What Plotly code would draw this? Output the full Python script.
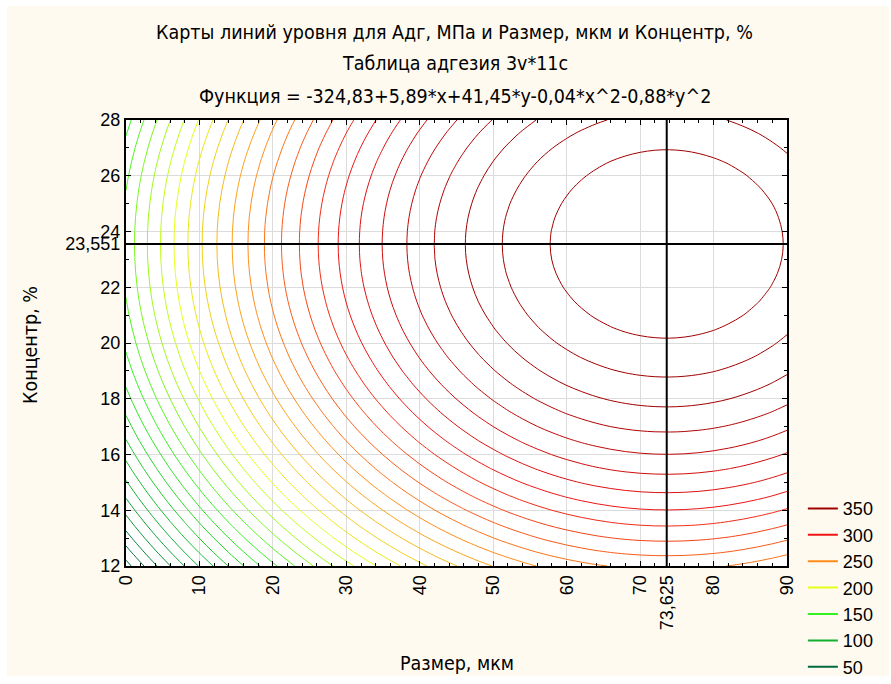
import numpy as np
import plotly.graph_objects as go

# Fitted surface: Adh = c0 + c1*x + c2*y + c3*x^2 + c4*y^2
coef = [-324.83, 5.89, 41.45, -0.04, -0.88]

# Optimum (crosshair) position
x_opt = 73.625
y_opt = 23.551

# Axis ranges and ticks
x_range = [0, 90]
y_range = [12, 28]
x_ticks = [0, 10, 20, 30, 40, 50, 60, 70, 80, 90]
y_ticks = [12, 14, 16, 18, 20, 22, 24, 26, 28]

# Contour levels and legend entries
level_start, level_end, level_step = 50, 370, 10
legend_levels = [350, 300, 250, 200, 150, 100, 50]
legend_colors = ["#A00000", "#EE1414", "#FF8C1A", "#E6FF1A", "#33F020", "#10B030", "#006840"]

FONT = "Liberation Sans, Arial, sans-serif"
NARROW = "Liberation Sans Narrow, Arial Narrow, DejaVu Sans Condensed, sans-serif"

xs = np.linspace(x_range[0], x_range[1], 46)
ys = np.linspace(y_range[0], y_range[1], 33)
X, Y = np.meshgrid(xs, ys)
Z = coef[0] + coef[1] * X + coef[2] * Y + coef[3] * X ** 2 + coef[4] * Y ** 2

# colour scale running from the lowest to the highest legend level
lo, hi = min(legend_levels), max(legend_levels)
scale = sorted(
    [((lv - lo) / (hi - lo), c) for lv, c in zip(legend_levels, legend_colors)]
)

fig = go.Figure()
fig.add_trace(go.Contour(
    x=xs, y=ys, z=Z,
    zauto=False, zmin=lo, zmax=hi,
    colorscale=scale,
    contours=dict(coloring="lines", start=level_start, end=level_end, size=level_step),
    line=dict(width=1),
    showscale=False,
    showlegend=False,
    hoverinfo="skip",
))

# crosshair through the optimum
fig.add_trace(go.Scatter(x=[x_opt, x_opt], y=y_range, mode="lines",
                         line=dict(color="black", width=2), showlegend=False, hoverinfo="skip"))
fig.add_trace(go.Scatter(x=x_range, y=[y_opt, y_opt], mode="lines",
                         line=dict(color="black", width=2), showlegend=False, hoverinfo="skip"))

for lv, c in zip(legend_levels, legend_colors):
    fig.add_trace(go.Scatter(x=[None], y=[None], mode="lines",
                             line=dict(color=c, width=2), name=str(lv)))

fmt = lambda v: str(v).replace(".", ",")


def note(text, x, y, angle=0):
    return dict(text=text, x=x, y=y, xref="paper", yref="paper", showarrow=False,
                xanchor="center", yanchor="middle", textangle=angle,
                font=dict(family=NARROW, size=19.5, color="black"))


fig.update_layout(
    width=891, height=684,
    margin=dict(l=126, r=104, t=120, b=118, autoexpand=False),
    paper_bgcolor="white",
    plot_bgcolor="white",
    showlegend=True,
    legend=dict(x=1.024, y=0.170, xanchor="left", yanchor="top",
                font=dict(family=FONT, size=18, color="black"),
                bgcolor="rgba(0,0,0,0)", tracegroupgap=0, itemwidth=30),
    shapes=[
        dict(type="rect", xref="paper", yref="paper",
             x0=-0.1800, x1=1.1543, y0=-0.2466, y1=1.2556,
             fillcolor="#FFFAEF", line=dict(width=0), layer="below"),
        dict(type="rect", xref="x", yref="y",
             x0=x_range[0], x1=x_range[1], y0=y_range[0], y1=y_range[1],
             fillcolor="white", line=dict(width=0), layer="below"),
    ],
    annotations=[
        note("Карты линий уровня для Адг, МПа и Размер, мкм и Концентр, %", 0.4977, 1.1951),
        note("Таблица адгезия 3v*11c", 0.4977, 1.1256),
        note("Функция = -324,83+5,89*x+41,45*y-0,04*x^2-0,88*y^2", 0.4977, 1.0516),
        note("Размер, мкм", 0.5, -0.2175),
        note("Концентр, %", -0.1452, 0.4955, angle=-90),
    ],
)

fig.update_xaxes(
    range=x_range, tickmode="array", automargin=False,
    tickvals=x_ticks + [x_opt], ticktext=[str(v) for v in x_ticks] + [fmt(x_opt)],
    tickangle=-90, ticks="inside", ticklen=5, tickcolor="black", tickwidth=1,
    showline=True, linecolor="black", linewidth=2, mirror="allticks",
    showgrid=True, gridcolor="#DCDCDC", gridwidth=1, zeroline=False,
    tickfont=dict(family=FONT, size=18, color="black"),
    minor=dict(dtick=2, tick0=0, ticks="inside", ticklen=3, tickcolor="black", showgrid=False),
)
fig.update_yaxes(
    range=y_range, tickmode="array", automargin=False,
    tickvals=y_ticks + [y_opt], ticktext=[str(v) for v in y_ticks] + [fmt(y_opt)],
    ticks="inside", ticklen=5, tickcolor="black", tickwidth=1,
    showline=True, linecolor="black", linewidth=2, mirror="allticks",
    showgrid=True, gridcolor="#DCDCDC", gridwidth=1, zeroline=False,
    tickfont=dict(family=FONT, size=18, color="black"),
    minor=dict(dtick=1, tick0=0, ticks="inside", ticklen=3, tickcolor="black", showgrid=False),
)

fig.write_html("out.html")
